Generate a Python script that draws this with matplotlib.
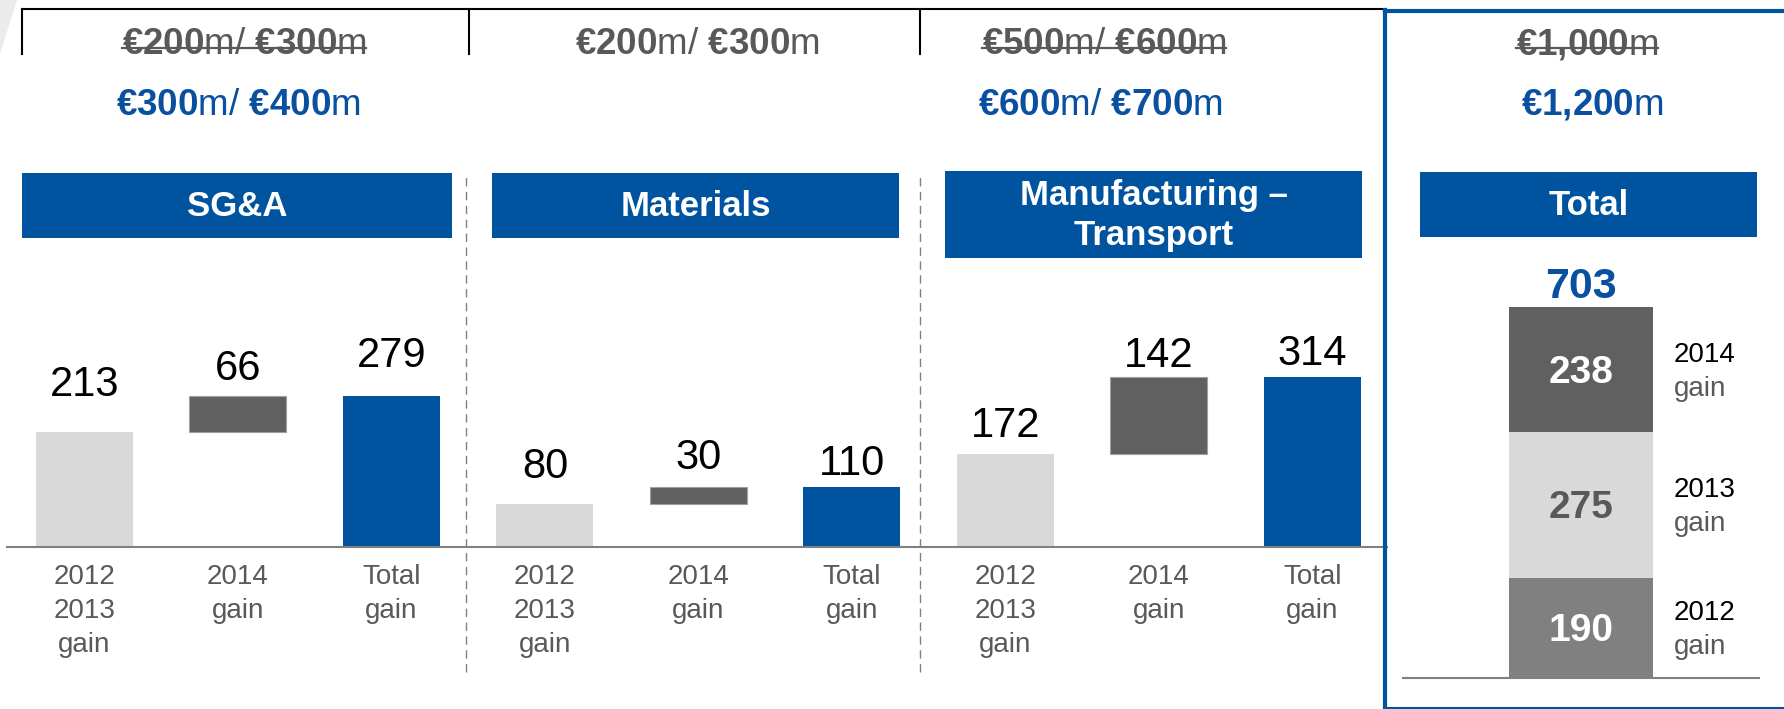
import re

import matplotlib
matplotlib.use("Agg")
import matplotlib.pyplot as plt
from matplotlib.lines import Line2D
from matplotlib.patches import Polygon, Rectangle

W, H, DPI = 1784, 709, 100

BLUE = "#00539F"
BLUE_TEXT = "#0A50A0"
LIGHT = "#D9D9D9"
DARK = "#606060"
MID = "#808080"
TEXT_GREY = "#595959"

plt.rcParams["font.family"] = ["Liberation Sans", "DejaVu Sans"]
plt.rcParams["mathtext.fontset"] = "custom"
plt.rcParams["mathtext.rm"] = "Liberation Sans"
plt.rcParams["mathtext.bf"] = "Liberation Sans:bold"

# --- data -------------------------------------------------------------------
categories = ["SG&A", "Materials", "Manufacturing –\nTransport", "Total"]
gain_2012_2013 = [213, 80, 172]
gain_2014 = [66, 30, 142]
total_gain = [279, 110, 314]
bar_labels = ["2012\n2013\ngain", "2014\ngain", "Total\ngain"]

old_targets = ["€200m/ €300m", "€200m/ €300m", "€500m/ €600m", "€1,000m"]
new_targets = ["€300m/ €400m", "", "€600m/ €700m", "€1,200m"]
old_struck = [True, False, True, True]

total_years = ["2012", "2013", "2014"]
total_values = [190, 275, 238]


def fx(x):
    return x / W


def fy(y):
    return 1 - y / H


def mixed_bold(s):
    # euro amounts in bold, the rest regular
    return re.sub(r"(€[\d,]+)", lambda m: "$\\mathbf{" + m.group(1).replace(",", "{,}") + "}$", s)


fig = plt.figure(figsize=(W / DPI, H / DPI), dpi=DPI)

# slide decoration top-left
fig.patches.append(Polygon([(fx(0), fy(0)), (fx(17), fy(0)), (fx(0), fy(54))],
                           closed=True, transform=fig.transFigure, color="#EBEBEB", lw=0))

# --- waterfall panels -------------------------------------------------------
scale = 0.541          # px per unit
slot = 153.5           # px between bar centres
first = 84.5
bar_w = 97 / slot
base_y = 547

ax = fig.add_axes([fx(6), 0, (1388 - 6) / W, 1])
ax.set_xlim((6 - first) / slot, (1388 - first) / slot)
ax.set_ylim(-(H - base_y) / scale, base_y / scale)
ax.axis("off")

label_gaps = [36, 16, 29, 26, 18, 12, 17, 10, 12]
for i in range(3):
    x0 = 3 * i
    ax.bar(x0, gain_2012_2013[i], width=bar_w, color=LIGHT, lw=0)
    ax.bar(x0 + 1, gain_2014[i], bottom=gain_2012_2013[i], width=bar_w, color=DARK,
           edgecolor="#A0A0A0", lw=0.8)
    ax.bar(x0 + 2, total_gain[i], width=bar_w, color=BLUE, lw=0)
    tops = [gain_2012_2013[i], gain_2012_2013[i] + gain_2014[i], total_gain[i]]
    values = [gain_2012_2013[i], gain_2014[i], total_gain[i]]
    for j in range(3):
        ax.annotate(str(values[j]), (x0 + j, tops[j]), xytext=(0, label_gaps[3 * i + j]),
                    textcoords="offset pixels", ha="center", va="baseline",
                    fontsize=30, color="black")
        ax.annotate(bar_labels[j], (x0 + j, 0), xytext=(0, -17), textcoords="offset pixels",
                    ha="center", va="top", fontsize=20, color=TEXT_GREY, linespacing=1.4)

ax.axhline(0, color=MID, lw=1.5, zorder=3)
for xs in [(466 - first) / slot, (920 - first) / slot]:
    ax.axvline(xs, ymin=(H - 672) / H, ymax=(H - 173) / H, color=MID, lw=1.0,
               dashes=(6, 4))

# --- total panel ------------------------------------------------------------
tscale = 0.528
tbase = 678
ax2 = fig.add_axes([fx(1402), 0, (1760 - 1402) / W, 1])
half = (1760 - 1402) / 144 / 2
ax2.set_xlim(-half, half)
ax2.set_ylim(-(H - tbase) / tscale, tbase / tscale)
ax2.axis("off")

seg_colors = [MID, LIGHT, DARK]
seg_text = ["white", TEXT_GREY, "white"]
bottom = 0
for year, val, c, tc in zip(total_years, total_values, seg_colors, seg_text):
    ax2.bar(0, val, bottom=bottom, width=1, color=c, lw=0)
    mid = bottom + val / 2
    ax2.annotate(str(val), (0, mid), xytext=(0, -3), textcoords="offset pixels",
                 ha="center", va="center", fontsize=28, fontweight="bold", color=tc)
    ax2.annotate(year, (0.5, mid), xytext=(21, 15), textcoords="offset pixels",
                 ha="left", va="center", fontsize=20, color="black")
    ax2.annotate("gain", (0.5, mid), xytext=(21, -19), textcoords="offset pixels",
                 ha="left", va="center", fontsize=20, color=TEXT_GREY)
    bottom += val
ax2.annotate(str(sum(total_values)), (0, bottom), xytext=(0, 9), textcoords="offset pixels",
             ha="center", va="baseline", fontsize=31, fontweight="bold", color=BLUE_TEXT)
ax2.axhline(0, color=MID, lw=1.5)

# --- header boxes -----------------------------------------------------------
header_boxes = [(22, 452, 173, 238), (492, 899, 173, 238), (945, 1362, 171, 258), (1420, 1757, 172, 237)]
for name, (x0, x1, y0, y1) in zip(categories, header_boxes):
    fig.patches.append(Rectangle((fx(x0), fy(y1)), (x1 - x0) / W, (y1 - y0) / H,
                                 transform=fig.transFigure, color=BLUE, lw=0))
    fig.text(fx((x0 + x1) / 2), fy((y0 + y1) / 2 + 1), name, ha="center", va="center",
             fontsize=25, fontweight="bold", color="white", linespacing=1.3)

# --- target texts -----------------------------------------------------------
old_x = [244, 697, 1104, 1587]
new_x = [238, 697, 1100, 1592]
fig.canvas.draw()
renderer = fig.canvas.get_renderer()
for i in range(4):
    t = fig.text(fx(old_x[i]), fy(54), mixed_bold(old_targets[i]), ha="center", va="baseline",
                 fontsize=26.5, color=TEXT_GREY)
    if old_struck[i]:
        bb = t.get_window_extent(renderer)
        fig.lines.append(Line2D([bb.x0 / W, bb.x1 / W], [fy(48), fy(48)],
                                transform=fig.transFigure, color=TEXT_GREY, lw=1.6))
    if new_targets[i]:
        fig.text(fx(new_x[i]), fy(115), mixed_bold(new_targets[i]), ha="center", va="baseline",
                 fontsize=26.5, color=BLUE_TEXT)

# bracket on top of the three columns
fig.lines.append(Line2D([fx(22), fx(1385)], [fy(9), fy(9)], transform=fig.transFigure,
                        color="black", lw=1.5))
for xv in [22, 469, 920]:
    fig.lines.append(Line2D([fx(xv), fx(xv)], [fy(9), fy(54)], transform=fig.transFigure,
                            color="black", lw=1.5))

# frame around the total column
fig.lines.append(Line2D([fx(1385), fx(1385)], [fy(10), fy(709)], transform=fig.transFigure,
                        color=BLUE, lw=3))
fig.lines.append(Line2D([fx(1385), fx(1784)], [fy(10.5), fy(10.5)], transform=fig.transFigure,
                        color=BLUE, lw=3))
fig.lines.append(Line2D([fx(1385), fx(1784)], [fy(707.5), fy(707.5)], transform=fig.transFigure,
                        color=BLUE, lw=1.5))

fig.savefig("out.png", dpi=DPI)
